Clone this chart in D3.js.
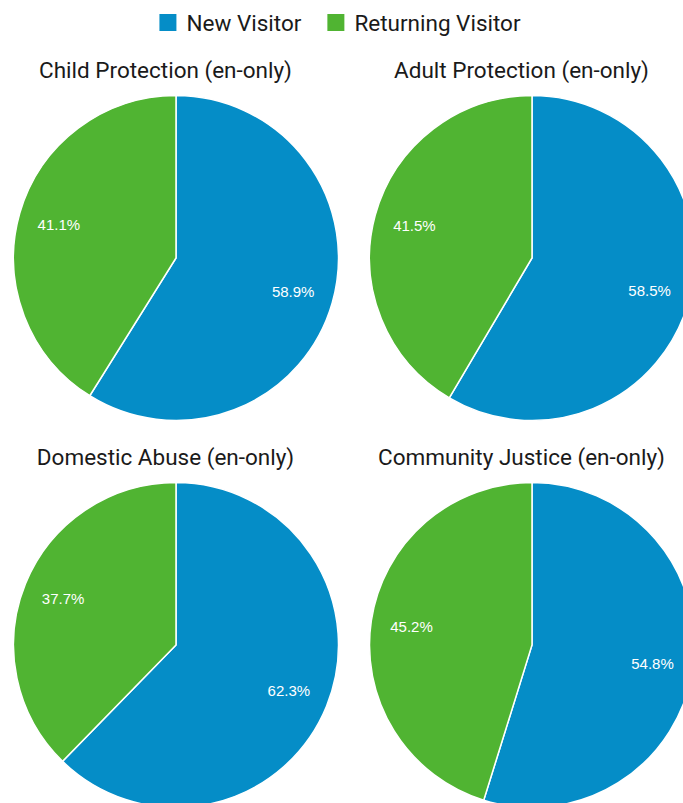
<!DOCTYPE html>
<html>
<head>
<meta charset="utf-8">
<script src="https://cdn.jsdelivr.net/npm/d3@7"></script>
<style>
  html, body { margin: 0; padding: 0; background: #fff; overflow: hidden; }
  svg { display: block; }
</style>
</head>
<body>
<svg id="chart" width="683" height="803"></svg>
<script>
const seriesNames = ["New Visitor", "Returning Visitor"];
const seriesColors = ["#058dc7", "#50b432"];
const chartTitles = ["Child Protection (en-only)", "Adult Protection (en-only)", "Domestic Abuse (en-only)", "Community Justice (en-only)"];
const newVisitorPct = [58.9, 58.5, 62.3, 54.8];
const returningVisitorPct = [41.1, 41.5, 37.7, 45.2];

const W = 683, H = 803;
const svg = d3.select("#chart");

const colX = d3.scalePoint().domain([0, 1]).range([176, 532]);
const rowY = d3.scalePoint().domain([0, 1]).range([258, 645]);
const R = 162.5;

const pie = d3.pie().sort(null).value(d => d.value);
const arc = d3.arc().innerRadius(0).outerRadius(R);
const labelArc = d3.arc().innerRadius(R * 0.75).outerRadius(R * 0.75);

chartTitles.forEach((title, i) => {
  const col = i % 2, row = Math.floor(i / 2);
  const cx = colX(col), cy = rowY(row);
  const data = [
    { name: seriesNames[0], value: newVisitorPct[i] },
    { name: seriesNames[1], value: returningVisitorPct[i] }
  ];
  const g = svg.append("g").attr("transform", `translate(${cx},${cy})`);
  const arcs = pie(data);
  g.selectAll("path").data(arcs).join("path")
    .attr("d", arc)
    .attr("fill", (d, j) => seriesColors[j])
    .attr("stroke", "#fff")
    .attr("stroke-width", 1.5);
  g.selectAll("text.lbl").data(arcs).join("text")
    .attr("class", "lbl")
    .attr("transform", d => `translate(${labelArc.centroid(d)})`)
    .attr("text-anchor", "middle")
    .attr("dy", "0.36em")
    .attr("font-family", "Arial, 'Liberation Sans', sans-serif")
    .attr("font-size", 15)
    .attr("fill", "#ffffff")
    .text(d => d.data.value.toFixed(1) + "%");
  svg.append("text")
    .attr("x", cx - 10.5)
    .attr("y", cy - 180)
    .attr("text-anchor", "middle")
    .attr("font-family", "Roboto, sans-serif")
    .attr("font-size", 22.5)
    .attr("fill", "#1a1a1a")
    .text(title);
});

// Legend
const legend = svg.append("g");
const items = legend.selectAll("g").data(seriesNames).join("g");
items.append("rect").attr("width", 17).attr("height", 17).attr("y", -17)
  .attr("fill", (d, j) => seriesColors[j]);
items.append("text").attr("x", 27).attr("y", 0)
  .attr("font-family", "Roboto, sans-serif").attr("font-size", 22.5).attr("fill", "#1a1a1a")
  .text(d => d);
const widths = [];
items.each(function () {
  const w = this.querySelector("text").getComputedTextLength() + 27;
  widths.push(w);
});
const gap = 26;
const total = widths.reduce((a, b) => a + b, 0) + gap;
const start = 340 - total / 2;
items.attr("transform", (d, j) => {
  const x = start + widths.slice(0, j).reduce((a, b) => a + b, 0) + j * gap;
  return `translate(${x},31)`;
});
</script>
</body>
</html>
